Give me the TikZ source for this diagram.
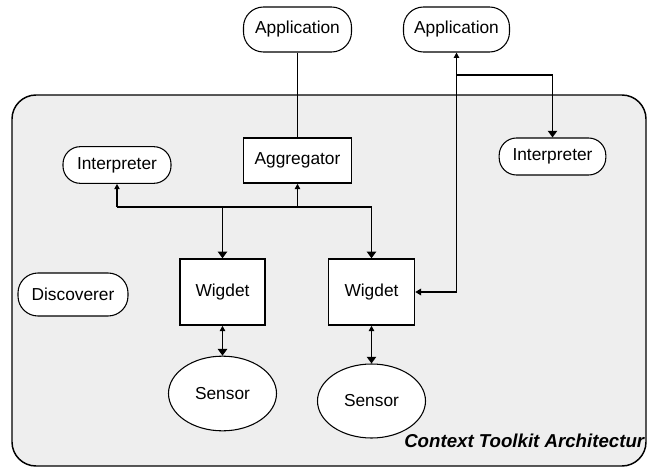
\documentclass[tikz,border=0pt]{standalone}
\usepackage{fontspec}
\setmainfont{Liberation Sans}
\usetikzlibrary{arrows.meta,shapes.geometric}
\definecolor{panel}{HTML}{EEEEEE}
\begin{document}
\begin{tikzpicture}[x=0.75pt,y=-0.75pt,
  every node/.style={font=\fontsize{13}{15}\selectfont, inner sep=0pt},
  pill/.style={draw, fill=white, rounded corners=13pt, line width=0.8pt},
  bigpill/.style={pill, rounded corners=15pt},
  boxnode/.style={draw, fill=white, rectangle, line width=1.1pt},
  blob/.style={draw, fill=white, ellipse, line width=0.8pt, minimum width=81pt, minimum height=56pt},
  conn/.style={line width=1.1pt},
  smallhead/.style={conn, -{Triangle[width=4pt,length=4pt]}},
  bighead/.style={conn, -{Triangle[width=7pt,length=5pt]}},
  twohead/.style={conn, {Triangle[width=4pt,length=4pt]}-{Triangle[width=7pt,length=5pt]}}
]
\useasboundingbox (0,0) rectangle (647,468);
% panel
\draw[fill=panel, line width=1.1pt, rounded corners=18pt] (12,95) rectangle (646,466);

% nodes
\node[bigpill, minimum width=81pt, minimum height=33.75pt] (app1) at (297.5,29.5) {Application};
\node[bigpill, minimum width=79.5pt, minimum height=33.75pt] (app2) at (456.5,29.5) {Application};
\node[boxnode, minimum width=81pt, minimum height=33.75pt] (agg) at (297.5,160.5) {Aggregator};
\node[pill, minimum width=81pt, minimum height=27.5pt] (intL) at (117,165) {Interpreter};
\node[pill, minimum width=80pt, minimum height=27.75pt] (intR) at (552.5,156.5) {Interpreter};
\node[bigpill, minimum width=82.5pt, minimum height=32.25pt] (disc) at (73,294.5) {Discoverer};
\node[boxnode, minimum width=63.75pt, minimum height=49.5pt] (w1) at (222.5,292) {Wigdet};
\node[boxnode, minimum width=64.5pt, minimum height=49.5pt] (w2) at (371.5,292) {Wigdet};
\node[blob] (s1) at (222.5,393.5) {Sensor};
\node[blob, minimum height=55.5pt] (s2) at (371.5,401) {Sensor};

% connectors
\draw[conn] (app1.south) -- (agg.north);
\coordinate (bL) at (117,207);
\coordinate (bR) at (371.5,207);
\draw[conn] (bL) -- (bR);
\draw[smallhead] (bL) -- (intL.south);
\draw[smallhead] (agg.south |- bL) -- (agg.south);
\draw[bighead] (w1.north |- bL) -- (w1.north);
\draw[bighead] (bR) -- (w2.north);
\draw[twohead] (w1.south) -- (s1.north);
\draw[twohead] (w2.south) -- (s2.north);
\coordinate (cA) at (456.5,292);
\coordinate (cB) at (456.5,75);
\draw[smallhead] (cA) -- (app2.south);
\draw[conn, -{Triangle[width=5pt,length=4.5pt]}] (cA) -- (w2.east);
\draw[bighead] (cB) -| (intR.north);

% caption
\node[anchor=base west, font=\fontsize{14}{16}\selectfont\bfseries\itshape] (cap) at (404,447) {Context Toolkit Architectur};
\end{tikzpicture}
\end{document}
